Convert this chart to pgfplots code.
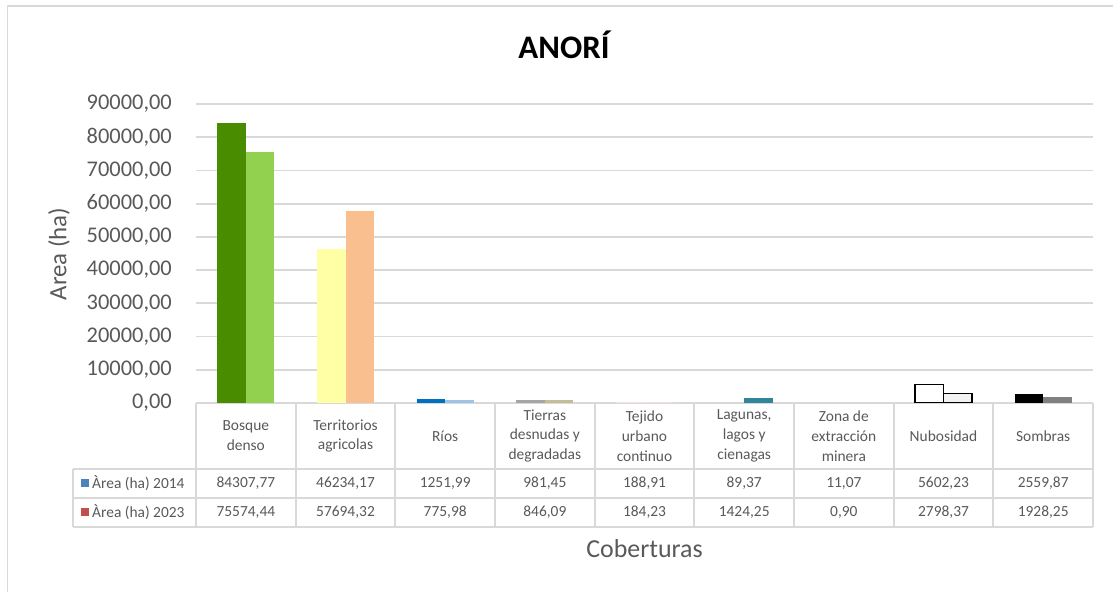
\documentclass[border=0pt]{standalone}
\usepackage{fontspec}
\setmainfont{Carlito}
\usepackage{pgfplots}
\pgfplotsset{compat=1.18}
\definecolor{txt}{HTML}{595959}
\definecolor{gridc}{HTML}{D9D9D9}
\definecolor{legblue}{HTML}{4F81BD}
\definecolor{legred}{HTML}{C0504D}
% bar colours, one pair per category
\definecolor{bosqueA}{HTML}{4A8C00}
\definecolor{bosqueB}{HTML}{92D050}
\definecolor{terrA}{HTML}{FFFFA6}
\definecolor{terrB}{HTML}{F9BF8F}
\definecolor{riosA}{HTML}{0070C0}
\definecolor{riosB}{HTML}{9DC3E6}
\definecolor{tierA}{HTML}{A5A5A5}
\definecolor{tierB}{HTML}{C4BD97}
\definecolor{tejA}{HTML}{F4E3E3}
\definecolor{tejB}{HTML}{EFE0E0}
\definecolor{lagA}{HTML}{D6E9EE}
\definecolor{lagB}{HTML}{31849B}
\definecolor{zonaA}{HTML}{E6E0EC}
\definecolor{zonaB}{HTML}{E6E0EC}
\definecolor{nubB}{HTML}{F2F2F2}
\definecolor{sombB}{HTML}{808080}

\begin{document}
\begin{tikzpicture}
\useasboundingbox (0,0) rectangle (1113bp,592bp);
\draw[gridc, line width=1.2bp] (7.5bp,0) -- (7.5bp,586bp) -- (1113bp,586bp);

\begin{axis}[
  at={(196bp,189bp)}, anchor=south west,
  scale only axis, width=897bp, height=299bp,
  xmin=-0.5, xmax=8.5, ymin=0, ymax=90000,
  axis x line*=bottom, axis y line*=left,
  x axis line style={gridc, line width=2bp},
  y axis line style={draw=none},
  major tick length=0pt,
  ytick={0,10000,...,90000},
  scaled y ticks=false,
  ymajorgrids, grid style={gridc, line width=1.8bp},
  xtick={0,...,8},
  xticklabels={{Bosque\\denso},{Territorios\\agricolas},{Ríos},{Tierras\\desnudas y\\degradadas},{Tejido\\urbano\\continuo},{Lagunas,\\lagos y\\cienagas},{Zona de\\extracción\\minera},{Nubosidad},{Sombras}},
  xticklabel style={anchor=center, yshift=-33bp, align=center, text=txt, font=\fontsize{15.5}{20}\selectfont},
  yticklabel style={anchor=east, inner sep=0pt, xshift=-24bp, text=txt, font=\fontsize{22.5}{27}\selectfont},
  /pgf/number format/.cd, fixed, fixed zerofill, precision=2, use comma, 1000 sep={}, assume math mode=true,
]
\addplot[ybar, bar width=0.286, bar shift=-0.143, fill=bosqueA, draw=none] coordinates {(0,84307.77)};
\addplot[ybar, bar width=0.286, bar shift=0.143, fill=bosqueB, draw=none] coordinates {(0,75574.44)};
\addplot[ybar, bar width=0.286, bar shift=-0.143, fill=terrA, draw=none] coordinates {(1,46234.17)};
\addplot[ybar, bar width=0.286, bar shift=0.143, fill=terrB, draw=none] coordinates {(1,57694.32)};
\addplot[ybar, bar width=0.286, bar shift=-0.143, fill=riosA, draw=none] coordinates {(2,1251.99)};
\addplot[ybar, bar width=0.286, bar shift=0.143, fill=riosB, draw=none] coordinates {(2,775.98)};
\addplot[ybar, bar width=0.286, bar shift=-0.143, fill=tierA, draw=none] coordinates {(3,981.45)};
\addplot[ybar, bar width=0.286, bar shift=0.143, fill=tierB, draw=none] coordinates {(3,846.09)};
\addplot[ybar, bar width=0.286, bar shift=-0.143, fill=tejA, draw=none] coordinates {(4,188.91)};
\addplot[ybar, bar width=0.286, bar shift=0.143, fill=tejB, draw=none] coordinates {(4,184.23)};
\addplot[ybar, bar width=0.286, bar shift=-0.143, fill=lagA, draw=none] coordinates {(5,89.37)};
\addplot[ybar, bar width=0.286, bar shift=0.143, fill=lagB, draw=none] coordinates {(5,1424.25)};
\addplot[ybar, bar width=0.286, bar shift=-0.143, fill=zonaA, draw=none] coordinates {(6,11.07)};
\addplot[ybar, bar width=0.286, bar shift=0.143, fill=zonaB, draw=none] coordinates {(6,0.90)};
\addplot[ybar, bar width=0.286, bar shift=-0.143, fill=white, draw=black, line width=1.5bp] coordinates {(7,5602.23)};
\addplot[ybar, bar width=0.286, bar shift=0.143, fill=nubB, draw=black, line width=1.5bp] coordinates {(7,2798.37)};
\addplot[ybar, bar width=0.286, bar shift=-0.143, fill=black, draw=none] coordinates {(8,2559.87)};
\addplot[ybar, bar width=0.286, bar shift=0.143, fill=sombB, draw=none] coordinates {(8,1928.25)};
\end{axis}

% data table below the axis
\draw[gridc, line width=2bp] (73bp,123bp) -- (1093bp,123bp)
  (73bp,94bp) -- (1093bp,94bp) (73bp,65bp) -- (1093bp,65bp)
  (73bp,123bp) -- (73bp,65bp);
\foreach \k in {0,...,9} {
  \pgfmathsetmacro\xx{196+99.667*\k}
  \draw[gridc, line width=2bp] (\xx bp,189bp) -- (\xx bp,65bp);
}
\fill[legblue] (80.5bp,104.5bp) rectangle (88.5bp,112.5bp);
\fill[legred] (80.5bp,75.5bp) rectangle (88.5bp,83.5bp);
\node[anchor=west, inner sep=0pt, text=txt, font=\fontsize{15.5}{18}\selectfont] at (92bp,108.5bp) {Àrea (ha) 2014};
\node[anchor=west, inner sep=0pt, text=txt, font=\fontsize{15.5}{18}\selectfont] at (92bp,79.5bp) {Àrea (ha) 2023};
\foreach \v [count=\i from 0] in {{84307,77},{46234,17},{1251,99},{981,45},{188,91},{89,37},{11,07},{5602,23},{2559,87}} {
  \pgfmathsetmacro\xx{245.83+99.667*\i}
  \node[text=txt, font=\fontsize{15.5}{18}\selectfont] at (\xx bp,108.5bp) {\v};
}
\foreach \v [count=\i from 0] in {{75574,44},{57694,32},{775,98},{846,09},{184,23},{1424,25},{0,90},{2798,37},{1928,25}} {
  \pgfmathsetmacro\xx{245.83+99.667*\i}
  \node[text=txt, font=\fontsize{15.5}{18}\selectfont] at (\xx bp,79.5bp) {\v};
}

\node[anchor=base, font=\fontsize{33}{38}\selectfont\bfseries] at (564bp,533bp) {ANORÍ};
\node[rotate=90, text=txt, font=\fontsize{25}{30}\selectfont] at (59bp,338bp) {Area (ha)};
\node[text=txt, font=\fontsize{26}{30}\selectfont] at (644.5bp,43bp) {Coberturas};
\end{tikzpicture}
\end{document}
